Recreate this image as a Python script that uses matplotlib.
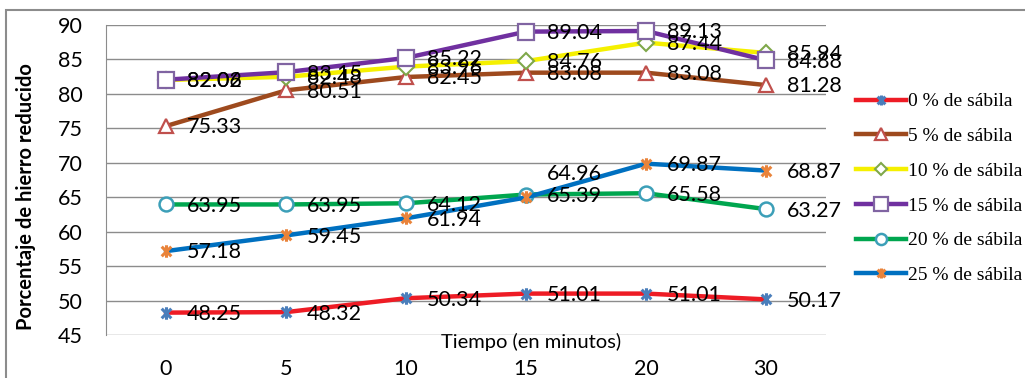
import numpy as np
import matplotlib.pyplot as plt
from matplotlib.path import Path
from matplotlib.patches import Rectangle

# tiempo de reduccion (categorias del eje x)
tiempos = ['0', '5', '10', '15', '20', '30']

series = ['0 % de sábila', '5 % de sábila', '10 % de sábila',
          '15 % de sábila', '20 % de sábila', '25 % de sábila']

sabila_0 = [48.25, 48.32, 50.34, 51.01, 51.01, 50.17]
sabila_5 = [75.33, 80.51, 82.45, 83.08, 83.08, 81.28]
sabila_10 = [82.02, 82.48, 83.96, 84.76, 87.44, 85.94]
sabila_15 = [82.06, 83.15, 85.22, 89.04, 89.13, 84.88]
sabila_20 = [63.95, 63.95, 64.12, 65.39, 65.58, 63.27]
sabila_25 = [57.18, 59.45, 61.94, 64.96, 69.87, 68.87]

datos = [sabila_0, sabila_5, sabila_10, sabila_15, sabila_20, sabila_25]

# asterisco estilo Excel: una x con trazo vertical
star = Path([(-1, -1), (1, 1), (-1, 1), (1, -1), (0, -1.3), (0, 1.3)],
            [Path.MOVETO, Path.LINETO, Path.MOVETO, Path.LINETO, Path.MOVETO, Path.LINETO])

estilos = [
    dict(color='#EE1C25', marker=star, mec='#4A7EBB', mfc='none', ms=9, mew=2.2),
    dict(color='#9E4A1E', marker='^', mec='#C0504D', mfc='white', ms=10, mew=1.6),
    dict(color='#F5F000', marker='D', mec='#7FA84A', mfc='white', ms=8, mew=1.5),
    dict(color='#7030A0', marker='s', mec='#8064A2', mfc='white', ms=12, mew=1.6),
    dict(color='#00A64F', marker='o', mec='#3C9FB8', mfc='white', ms=10, mew=1.8),
    dict(color='#0070C0', marker=star, mec='#E9833A', mfc='none', ms=9, mew=2.2),
]

plt.rcParams['font.family'] = ['Lato', 'DejaVu Sans']

fig = plt.figure(figsize=(10.25, 3.78), dpi=100)
ax = fig.add_axes([106 / 1025, 1 - 335 / 378, 720 / 1025, 310 / 378])

x = np.arange(len(tiempos))
for nombre, y, st in zip(series, datos, estilos):
    ax.plot(x, y, lw=3.2, label=nombre, zorder=3, clip_on=False, **st)

for k, y in enumerate(datos):
    for xi, yi in zip(x, y):
        # la etiqueta 64.96 va por encima de la linea
        off = (15, 17) if (k == 5 and xi == 3) else (15, -1)
        ax.annotate('%.2f' % yi, (xi, yi), xytext=off, textcoords='offset points',
                    ha='left', va='center', fontsize=15.5, color='black', zorder=5,
                    annotation_clip=False)

ax.set_xlim(-0.5, len(tiempos) - 0.5)
ax.set_ylim(45, 90)
ax.set_yticks(np.arange(45, 91, 5))
ax.set_xticks(x)
ax.set_xticklabels(tiempos)
ax.grid(axis='y', color='#8C8C8C', lw=1.0)
ax.set_axisbelow(True)
for s in ['top', 'right', 'bottom']:
    ax.spines[s].set_visible(False)
ax.spines['left'].set_color('#8C8C8C')
ax.tick_params(axis='y', length=0, pad=17, labelsize=15.5)
ax.tick_params(axis='x', length=0, pad=17, labelsize=15.5)

ax.set_xlabel('Tiempo (en minutos)', fontsize=14.5)
ax.xaxis.label.set_va('center')
ax.xaxis.set_label_coords(0.59, -0.022)
ax.set_ylabel('Porcentaje de hierro reducido', fontsize=14.5, fontweight='bold')
ax.yaxis.set_label_coords(-0.097, 0.445)

leg = fig.legend(loc='upper left', bbox_to_anchor=(852 / 1025, 1 - 89 / 378),
                 frameon=False, handlelength=2.6, handletextpad=0.1,
                 labelspacing=0.88, markerscale=0.8, borderaxespad=0, borderpad=0.2,
                 prop={'family': 'Liberation Serif', 'size': 14})

# marco exterior del grafico
fig.add_artist(Rectangle((6 / 1025, -0.1), 1.2, 1.1 - 10 / 378,
                         transform=fig.transFigure, fill=False,
                         ec='#8C8C8C', lw=1.5))

fig.savefig('out.png', dpi=100)
